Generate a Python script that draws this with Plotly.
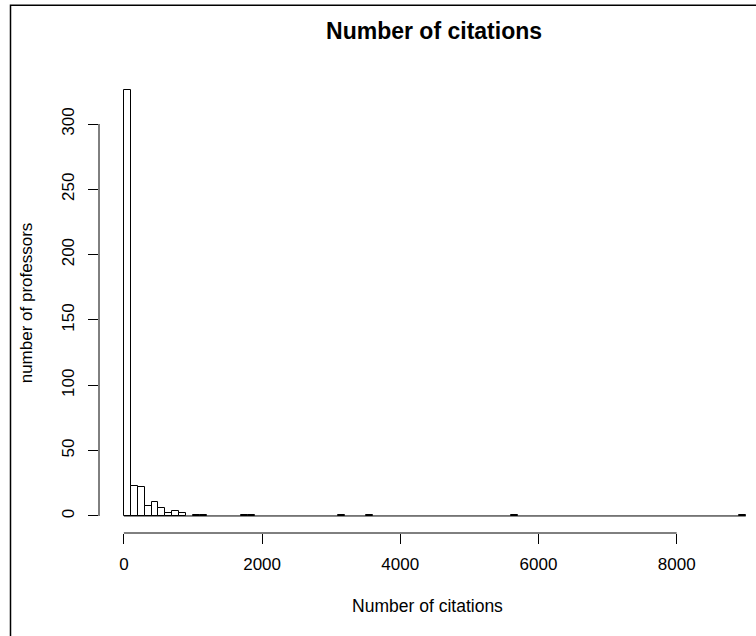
import plotly.graph_objects as go

# Histogram of citations: bin starts (width 100) and counts
bin_width = 100
bin_starts = [0, 100, 200, 300, 400, 500, 600, 700, 800,
              1000, 1100, 1700, 1800, 3100, 3500, 5600, 8900]
counts = [326, 23, 22, 8, 11, 6, 2, 4, 2,
          1, 1, 1, 1, 1, 1, 1, 1]
data_min, data_max = 0, 9000

x_ticks = [0, 2000, 4000, 6000, 8000]
y_ticks = [0, 50, 100, 150, 200, 250, 300]

title = "Number of citations"
x_title = "Number of citations"
y_title = "number of professors"

FONT = "Liberation Sans, Arial, sans-serif"

centers = [s + bin_width / 2 for s in bin_starts]

fig = go.Figure()
# baseline formed by the empty bins
fig.add_trace(go.Scatter(
    x=[data_min, data_max], y=[0, 0], mode="lines",
    line=dict(color="black", width=1), hoverinfo="skip", showlegend=False))
fig.add_trace(go.Bar(
    x=centers, y=counts, width=bin_width,
    marker=dict(color="white", line=dict(color="black", width=1)),
    showlegend=False))

# R-style extended ranges (4 %)
xr = [data_min - 0.04 * (data_max - data_min), 9148]
ymax = max(counts)
yr = [-0.04 * ymax, ymax * 1.04]

axis_common = dict(showgrid=False, zeroline=False, showline=False,
                   ticks="outside", ticklen=10, tickwidth=1, tickcolor="black",
                   tickfont=dict(family=FONT, size=17, color="black"))

fig.update_layout(
    width=756, height=636,
    margin=dict(l=99, r=0, t=73, b=103),
    paper_bgcolor="white", plot_bgcolor="white",
    font=dict(family=FONT, color="black"),
    title=dict(text="<b>%s</b>" % title, font=dict(family=FONT, size=23, color="black"),
               x=0.51, xref="paper", xanchor="center",
               y=1 - 31 / 636, yref="container", yanchor="middle"),
    xaxis=dict(range=xr, tickvals=x_ticks, ticktext=[str(v) for v in x_ticks],
               ticklabelstandoff=6,
               title=dict(text=x_title, font=dict(family=FONT, size=17.5, color="black"),
                          standoff=26),
               **axis_common),
    yaxis=dict(range=yr, tickvals=y_ticks, ticktext=[str(v) for v in y_ticks],
               tickangle=-90, ticklabelstandoff=7,
               title=dict(text=y_title, font=dict(family=FONT, size=17, color="black"),
                          standoff=22),
               **axis_common),
    bargap=0,
)

# R-style axis lines spanning only the tick range
fig.add_shape(type="line", xref="x", yref="paper",
              x0=x_ticks[0], x1=x_ticks[-1], y0=0, y1=0,
              line=dict(color="black", width=1))
fig.add_shape(type="line", xref="paper", yref="y",
              x0=0, x1=0, y0=y_ticks[0], y1=y_ticks[-1],
              line=dict(color="black", width=1))
# frame around the figure (left and top edges visible)
fig.add_shape(type="rect", xref="paper", yref="paper",
              x0=-0.1347, x1=1.2, y0=-0.4, y1=1.1475,
              line=dict(color="black", width=1.5), layer="above")

fig.write_html("out.html", config={"displayModeBar": False},
               post_script="document.body.style.margin='0';")
